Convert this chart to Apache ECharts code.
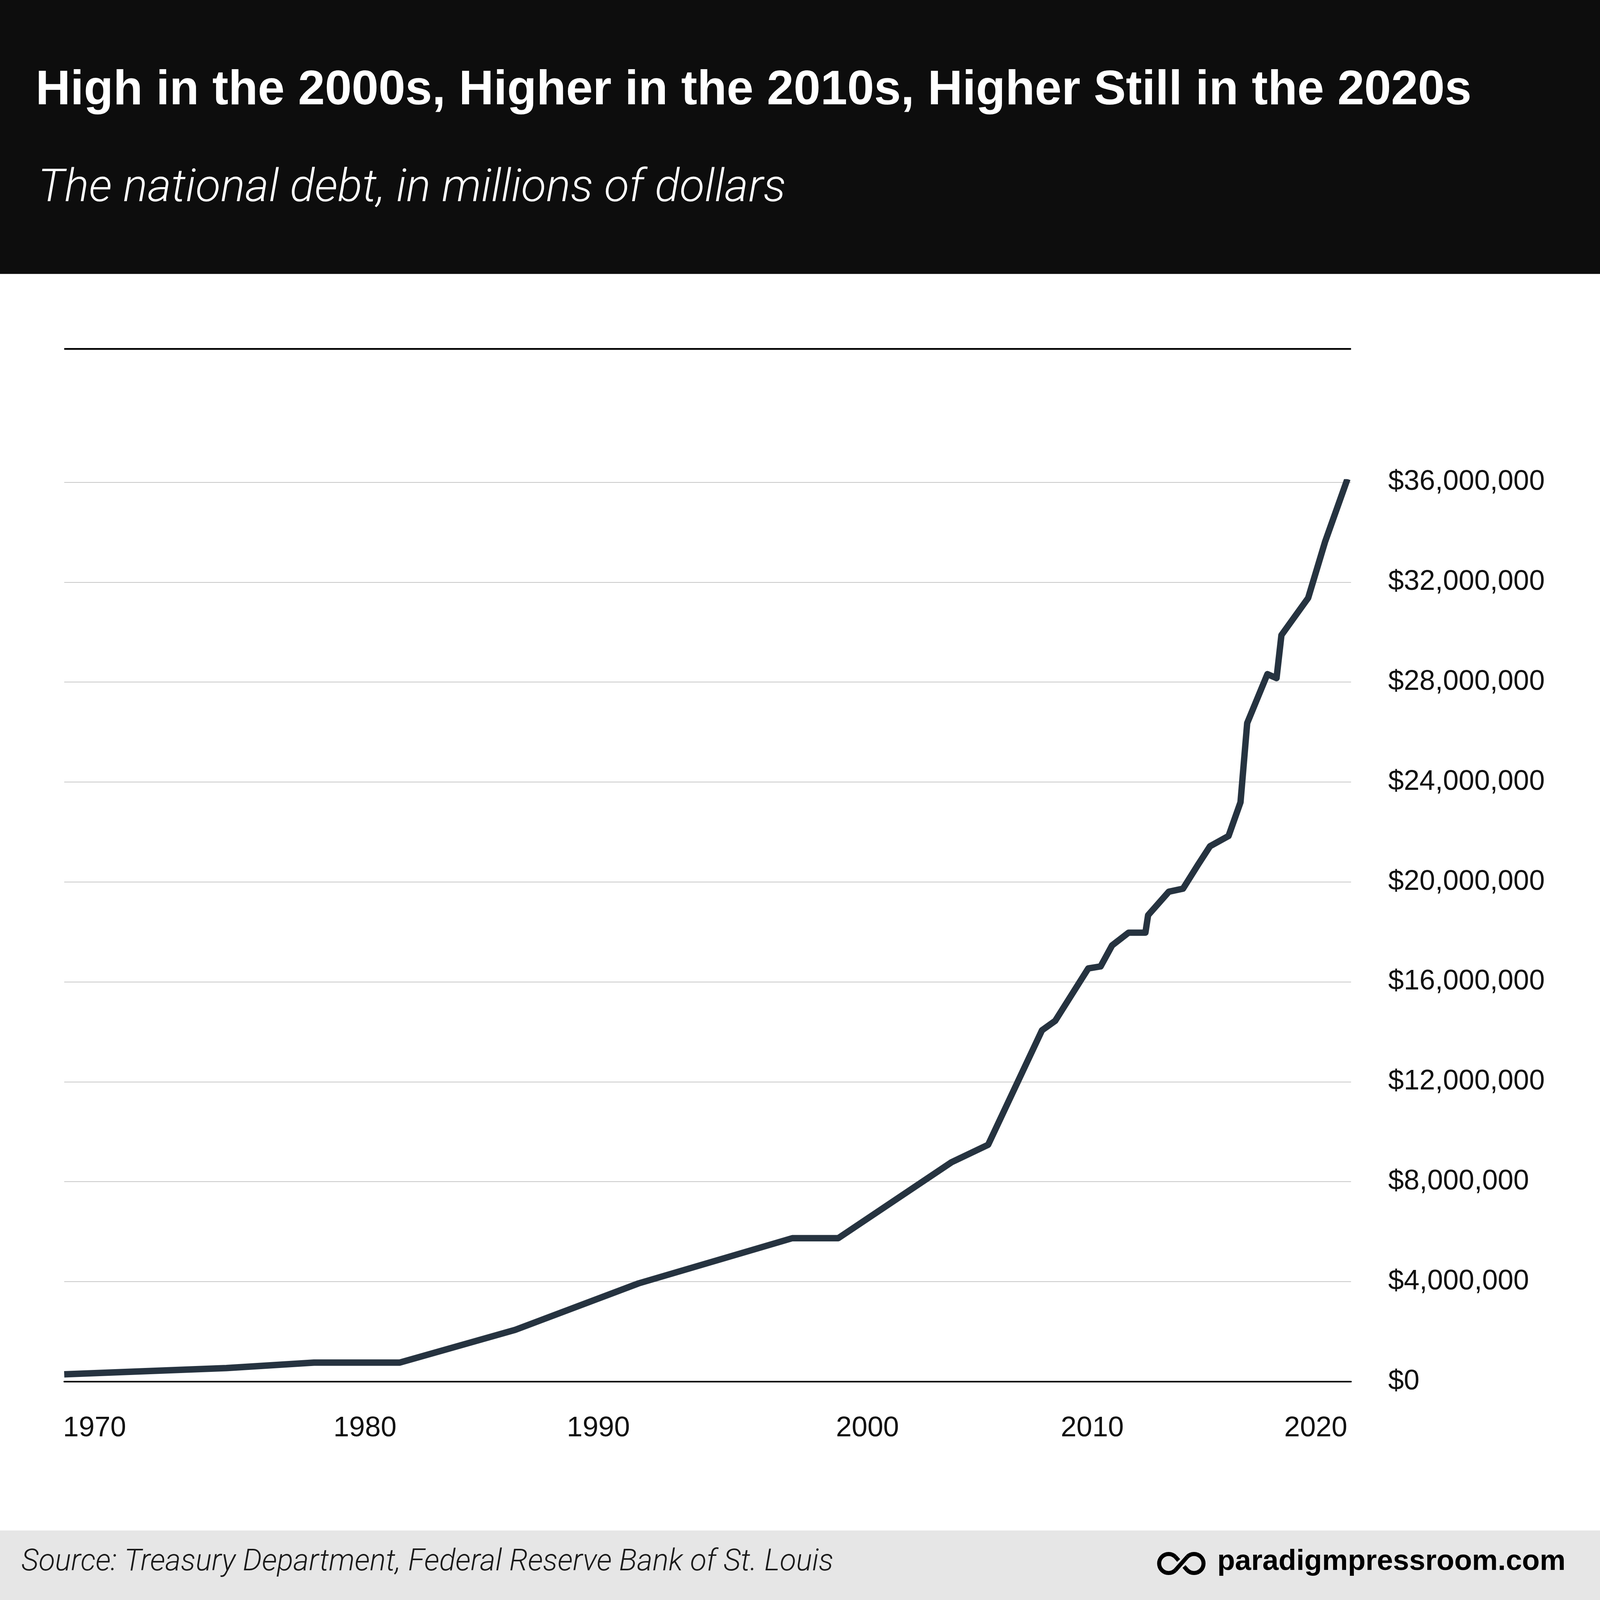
<!DOCTYPE html>
<html>
<head>
<meta charset="utf-8">
<script src="https://cdn.jsdelivr.net/npm/echarts@6/dist/echarts.min.js"></script>
<style>
  html, body { margin: 0; padding: 0; background: #ffffff; overflow: hidden; }
  #chart { width: 100vw; height: 100vh; }
</style>
</head>
<body>
<div id="chart"></div>
<script>
// ---- data ----
// position along the (irregular) timeline, in % of the plotted span
const timelinePos = [0, 12.60, 19.41, 26.08, 35.05, 44.63, 56.58, 60.15, 68.95, 71.80,
  75.98, 77.01, 79.58, 80.54, 81.43, 82.71, 84.02, 84.23, 85.84, 86.94,
  88.11, 89.04, 90.48, 91.41, 91.93, 93.50, 94.21, 94.59, 96.67, 97.99, 99.72];
// national debt, millions of dollars
const debtMillions = [290000, 540000, 760000, 760000, 2070000, 3930000, 5740000, 5740000, 8780000, 9480000,
  14060000, 14440000, 16540000, 16620000, 17460000, 17970000, 17970000, 18670000, 19610000, 19730000,
  20690000, 21430000, 21840000, 23190000, 26360000, 28320000, 28160000, 29880000, 31370000, 33630000, 36130000];
// x tick labels and where they sit on the timeline
const yearLabels = ['1970', '1980', '1990', '2000', '2010', '2020'];
const yearLabelPos = [2.36, 23.37, 41.51, 62.42, 79.89, 97.26];
// y ticks
const yTickInterval = 4000000;
const yMax = 36000000;

const titleText = 'High in the 2000s, Higher in the 2010s, Higher Still in the 2020s';
const subtitleText = 'The national debt, in millions of dollars';
const sourceText = 'Source: Treasury Department, Federal Reserve Bank of St. Louis';
const brandText = 'paradigmpressroom.com';

// layout is designed on a 7500 x 5567 canvas and scaled to the actual window
const el = document.getElementById('chart');
const W = el.clientWidth || window.innerWidth;
const H = el.clientHeight || window.innerHeight;
const kx = W / 7500, ky = H / 5567;
const X = function (v) { return v * kx; };
const Y = function (v) { return v * ky; };
const F = function (v) { return v * kx; };

const chart = echarts.init(el, null, { renderer: 'canvas' });

// infinity logo geometry (design units)
const Lx = 5478, Rx = 5597, logoCy = 5440, r = 44.5, d = 31.5;
const cyPx = Y(logoCy);
const mxPx = X((Lx + Rx) / 2);
const dirx = 0.664, diry = 0.747, gap = 19;
const logoStyle = { fill: 'none', stroke: '#000000', lineWidth: F(19), lineCap: 'butt' };
const logo = [
  { type: 'arc', z: 2, shape: { cx: X(Lx), cy: cyPx, r: F(r), startAngle: Math.PI / 4, endAngle: Math.PI * 7 / 4, clockwise: true }, style: logoStyle },
  { type: 'arc', z: 2, shape: { cx: X(Rx), cy: cyPx, r: F(r), startAngle: -Math.PI * 3 / 4, endAngle: Math.PI * 3 / 4, clockwise: true }, style: logoStyle },
  { type: 'line', z: 2, shape: { x1: X(Lx) + F(d), y1: cyPx + F(d), x2: X(Rx) - F(d), y2: cyPx - F(d) }, style: logoStyle },
  { type: 'line', z: 2, shape: { x1: X(Lx) + F(d), y1: cyPx - F(d), x2: mxPx - F(gap * dirx), y2: cyPx - F(gap * diry) }, style: logoStyle },
  { type: 'line', z: 2, shape: { x1: mxPx + F(gap * dirx), y1: cyPx + F(gap * diry), x2: X(Rx) - F(d), y2: cyPx + F(d) }, style: logoStyle }
];

function txt(x, y, text, font, fill) {
  return { type: 'text', x: X(x), y: Y(y), z: 2,
    style: { text: text, fill: fill, font: font, align: 'left', verticalAlign: 'middle', textAlign: 'left', textVerticalAlign: 'middle' } };
}

const option = {
  animation: false,
  backgroundColor: '#ffffff',
  grid: { left: X(301), right: X(1167), top: Y(1678), bottom: Y(760), containLabel: false },
  xAxis: {
    type: 'value',
    min: 0,
    max: 100,
    axisLine: { show: true, onZero: false, lineStyle: { color: '#000000', width: F(7) } },
    axisTick: { show: false },
    splitLine: { show: false },
    axisLabel: {
      customValues: yearLabelPos,
      formatter: function (v) {
        let best = 0, bd = Infinity;
        yearLabelPos.forEach(function (p, i) { const dd = Math.abs(p - v); if (dd < bd) { bd = dd; best = i; } });
        return yearLabels[best];
      },
      margin: Y(163),
      verticalAlign: 'middle',
      fontFamily: 'Liberation Sans',
      fontSize: F(133),
      color: '#111111'
    }
  },
  yAxis: {
    type: 'value',
    position: 'right',
    min: 0,
    max: yMax,
    interval: yTickInterval,
    axisLine: { show: false },
    axisTick: { show: false },
    splitLine: { show: true, lineStyle: { color: '#c8c8c8', width: F(4) } },
    axisLabel: {
      margin: X(174),
      padding: [0, 0, Y(30), 0],
      fontFamily: 'Liberation Sans',
      fontSize: F(132),
      color: '#111111',
      formatter: function (v) { return '$' + Number(v).toLocaleString('en-US'); }
    }
  },
  series: [{
    type: 'line',
    data: timelinePos.map(function (p, i) { return [p, debtMillions[i]]; }),
    showSymbol: false,
    symbol: 'none',
    lineStyle: { color: '#263340', width: F(30), cap: 'butt', join: 'round' },
    z: 5
  }],
  graphic: [
    { type: 'rect', shape: { x: 0, y: 0, width: X(7500), height: Y(953) }, style: { fill: '#0d0d0d' }, z: 0 },
    { type: 'rect', shape: { x: 0, y: Y(5325), width: X(7500), height: Y(300) }, style: { fill: '#e6e6e6' }, z: 0 },
    { type: 'line', shape: { x1: X(301), y1: Y(1214), x2: X(6333), y2: Y(1214) }, style: { stroke: '#000000', lineWidth: F(8) }, z: 1 },
    txt(167, 316, titleText, 'bold ' + F(226) + 'px "Liberation Sans"', '#ffffff'),
    txt(178, 660, subtitleText, 'italic 300 ' + F(215) + 'px Roboto', '#ffffff'),
    txt(100, 5437, sourceText, 'italic 300 ' + F(141) + 'px Roboto', '#1a1a1a'),
    txt(5706, 5434, brandText, 'bold ' + F(136) + 'px "Liberation Sans"', '#000000')
  ].concat(logo)
};

chart.setOption(option);
window.addEventListener('resize', function () { chart.resize(); });
</script>
</body>
</html>
